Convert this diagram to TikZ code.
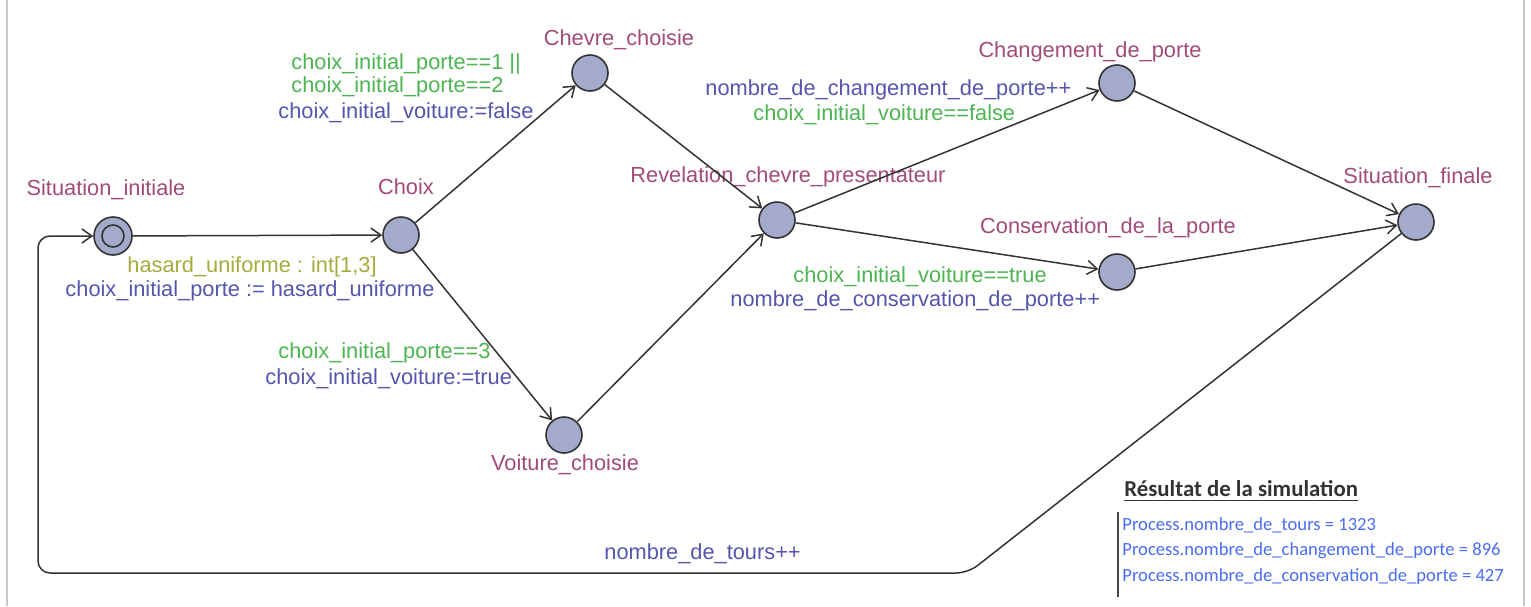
\documentclass[tikz,border=0pt]{standalone}
\usepackage{fontspec}
\setmainfont{Liberation Sans}
\newfontfamily\calibri{Carlito}
\usetikzlibrary{arrows.meta}
\definecolor{locname}{HTML}{A24B78}
\definecolor{guardc}{HTML}{4CB450}
\definecolor{updc}{HTML}{5555AE}
\definecolor{selc}{HTML}{A4AC3E}
\definecolor{locfill}{HTML}{A3AACB}
\definecolor{edgec}{HTML}{333333}
\definecolor{resc}{HTML}{4A6CF0}
\definecolor{framec}{HTML}{C8C8C8}
\tikzset{
  loc/.style={circle, draw=edgec, line width=0.8pt, fill=locfill, minimum size=18pt, inner sep=0pt},
  initinner/.style={circle, draw=edgec, line width=0.8pt, fill=locfill, minimum size=11pt, inner sep=0pt},
  lbl/.style={inner sep=0pt, font=\fontsize{10.9pt}{12pt}\selectfont, text height=0.72em, text depth=0.21em},
  locname/.style={lbl, text=locname},
  guard/.style={lbl, text=guardc},
  upd/.style={lbl, text=updc},
  sel/.style={lbl, text=selc},
  edge/.style={draw=edgec, line width=0.75pt, -{Straight Barb[length=5pt,width=7pt]}},
  res/.style={inner sep=0pt, anchor=west, text=resc, font=\calibri\fontsize{9.3pt}{11pt}\selectfont},
}
\begin{document}
\begin{tikzpicture}[x=0.5pt,y=-0.5pt]
\useasboundingbox (0,0) rectangle (1531,606);
% frame
\draw[framec, line width=1pt] (7,0) -- (7,606);
\draw[framec, line width=1pt] (1524,0) -- (1524,606);
% locations
\node[loc, minimum size=19pt] (init) at (113,236) {};
\node[initinner] (initin) at (113,236) {};
\node[loc] (choix) at (401,235) {};
\node[loc] (chevre) at (590,73) {};
\node[loc] (voiture) at (564,435) {};
\node[loc] (revel) at (777,220) {};
\node[loc] (chang) at (1117,83) {};
\node[loc] (conserv) at (1117,272) {};
\node[loc] (fin) at (1416,222) {};
% location names
\node[locname] (ninit) at (106,190) {Situation\_initiale};
\node[locname] (nchoix) at (406,189) {Choix};
\node[locname] (nchevre) at (619,40) {Chevre\_choisie};
\node[locname] (nvoiture) at (565,465) {Voiture\_choisie};
\node[locname] (nrevel) at (788,177) {Revelation\_chevre\_presentateur};
\node[locname] (nchang) at (1090,52) {Changement\_de\_porte};
\node[locname] (nconserv) at (1108,228) {Conservation\_de\_la\_porte};
\node[locname] (nfin) at (1418,178) {Situation\_finale};
% edges
\draw[edge] (init) -- (choix);
\draw[edge] (choix) -- (chevre);
\draw[edge] (choix) -- (voiture);
\draw[edge] (chevre) -- (revel);
\draw[edge] (voiture) -- (revel);
\draw[edge] (revel) -- (chang);
\draw[edge] (revel) -- (conserv);
\draw[edge] (chang) -- (fin);
\draw[edge] (conserv) -- (fin);
\coordinate (b1) at (968,573);
\coordinate (b2) at (38,573);
\coordinate (b3) at (38,236);
\draw[edge, rounded corners=6pt] (fin) -- (b1) -- (b2) -- (b3) -- (init);
% edge labels
\node[sel] (s0) at (252,267) {hasard\_uniforme : int[1,3]};
\node[upd] (u0) at (250,291) {choix\_initial\_porte := hasard\_uniforme};
\node[guard, anchor=west] (g1a) at (291,64) {choix\_initial\_porte==1 ||};
\node[guard, anchor=west] (g1b) at (291,87) {choix\_initial\_porte==2};
\node[upd, anchor=west] (u1) at (278,113) {choix\_initial\_voiture:=false};
\node[guard, anchor=west] (g2) at (278,353) {choix\_initial\_porte==3};
\node[upd, anchor=west] (u2) at (265,379) {choix\_initial\_voiture:=true};
\node[upd, anchor=west] (u3) at (705,90) {nombre\_de\_changement\_de\_porte++};
\node[guard, anchor=west] (g3) at (753,115) {choix\_initial\_voiture==false};
\node[guard, anchor=west] (g4) at (793,277) {choix\_initial\_voiture==true};
\node[upd, anchor=west] (u4) at (730,301) {nombre\_de\_conservation\_de\_porte++};
\node[upd, anchor=west] (u5) at (604,554) {nombre\_de\_tours++};
% results
\node[inner sep=0pt, anchor=west, text=edgec, font=\calibri\bfseries\fontsize{11.4pt}{13pt}\selectfont] (rtitle) at (1124,491) {\underline{Résultat de la simulation}};
\draw[edgec!90, line width=1.2pt] (1118,512) -- (1118,597);
\node[res] (r1) at (1122,525) {Process.nombre\_de\_tours = 1323};
\node[res] (r2) at (1122,551) {Process.nombre\_de\_changement\_de\_porte = 896};
\node[res] (r3) at (1122,577) {Process.nombre\_de\_conservation\_de\_porte = 427};
\end{tikzpicture}
\end{document}
